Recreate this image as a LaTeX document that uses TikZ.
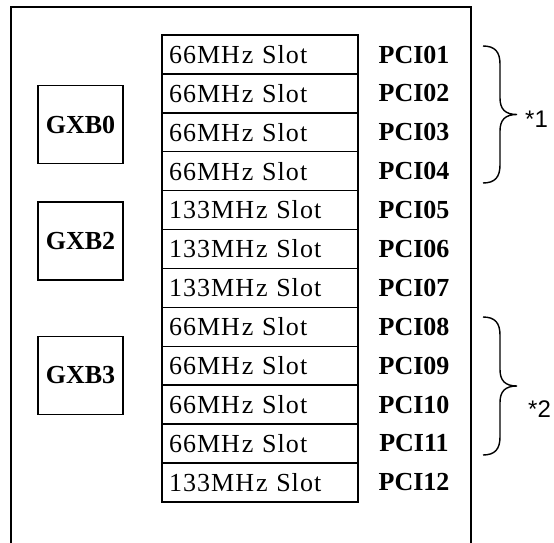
\documentclass[tikz,border=0pt]{standalone}
\usepackage{fontspec}
\setmainfont{Liberation Serif}
\newfontfamily\starfont{Liberation Sans}
\newfontfamily\slotfont[LetterSpace=4]{Liberation Serif}
\tikzset{
  slotbox/.style={draw, line width=1.4pt, rectangle, minimum width=196pt, minimum height=38.9pt, inner xsep=7pt, text width=182pt, align=left, font=\fontsize{26}{26}\slotfont},
  pcilabel/.style={font=\fontsize{26}{26}\selectfont\bfseries},
  gxbbox/.style={draw, line width=1.4pt, rectangle, minimum width=85pt, minimum height=78pt, font=\fontsize{26}{26}\selectfont\bfseries},
  groupbrace/.style={line width=1.4pt},
  note/.style={anchor=west, inner sep=0pt, font=\fontsize{24}{24}\starfont}
}
\newcommand{\mhz}[1]{#1MH\kern2pt z Slot}
\begin{document}
\begin{tikzpicture}[x=1pt, y=-1pt]
\useasboundingbox (0,0) rectangle (554,543);
% board outline, open at the bottom
\draw[line width=1.4pt] (11,543) |- (471,7) -- (471,543);
% slots
\node[slotbox] (s1) at (260,54.5) {\mhz{66}};
\node[slotbox] (s2) at (260,93.4) {\mhz{66}};
\node[slotbox] (s3) at (260,132.3) {\mhz{66}};
\node[slotbox] (s4) at (260,171.2) {\mhz{66}};
\node[slotbox] (s5) at (260,210.1) {\mhz{133}};
\node[slotbox] (s6) at (260,249.0) {\mhz{133}};
\node[slotbox] (s7) at (260,287.9) {\mhz{133}};
\node[slotbox] (s8) at (260,326.8) {\mhz{66}};
\node[slotbox] (s9) at (260,365.7) {\mhz{66}};
\node[slotbox] (s10) at (260,404.6) {\mhz{66}};
\node[slotbox] (s11) at (260,443.5) {\mhz{66}};
\node[slotbox] (s12) at (260,482.4) {\mhz{133}};
% slot names
\node[pcilabel] (p1) at (414,54.5) {PCI01};
\node[pcilabel] (p2) at (414,93.4) {PCI02};
\node[pcilabel] (p3) at (414,132.3) {PCI03};
\node[pcilabel] (p4) at (414,171.2) {PCI04};
\node[pcilabel] (p5) at (414,210.1) {PCI05};
\node[pcilabel] (p6) at (414,249.0) {PCI06};
\node[pcilabel] (p7) at (414,287.9) {PCI07};
\node[pcilabel] (p8) at (414,326.8) {PCI08};
\node[pcilabel] (p9) at (414,365.7) {PCI09};
\node[pcilabel] (p10) at (414,404.6) {PCI10};
\node[pcilabel] (p11) at (414,443.5) {PCI11};
\node[pcilabel] (p12) at (414,482.4) {PCI12};
% bridges
\node[gxbbox] (g0) at (80.5,124.5) {GXB0};
\node[gxbbox] (g2) at (80.5,241) {GXB2};
\node[gxbbox] (g3) at (80.5,375.5) {GXB3};
% groups
\coordinate (b1top) at (483,46);
\coordinate (b1tip) at (517,114.5);
\coordinate (b1bot) at (483,183);
\coordinate (b2top) at (483,317);
\coordinate (b2tip) at (517,386);
\coordinate (b2bot) at (483,455);
\draw[groupbrace] (b1top) .. controls (495,46) and (500,52) .. (500,64) -- (500,98)
  .. controls (500,109) and (505,114.5) .. (b1tip)
  .. controls (505,114.5) and (500,120) .. (500,131) -- (500,165)
  .. controls (500,177) and (495,183) .. (b1bot);
\draw[groupbrace] (b2top) .. controls (495,317) and (500,323) .. (500,335) -- (500,369.5)
  .. controls (500,380.5) and (505,386) .. (b2tip)
  .. controls (505,386) and (500,391.5) .. (500,402.5) -- (500,437)
  .. controls (500,449) and (495,455) .. (b2bot);
\node[note] (n1) at (525,119) {*1};
\node[note] (n2) at (528,409) {*2};
\end{tikzpicture}
\end{document}
